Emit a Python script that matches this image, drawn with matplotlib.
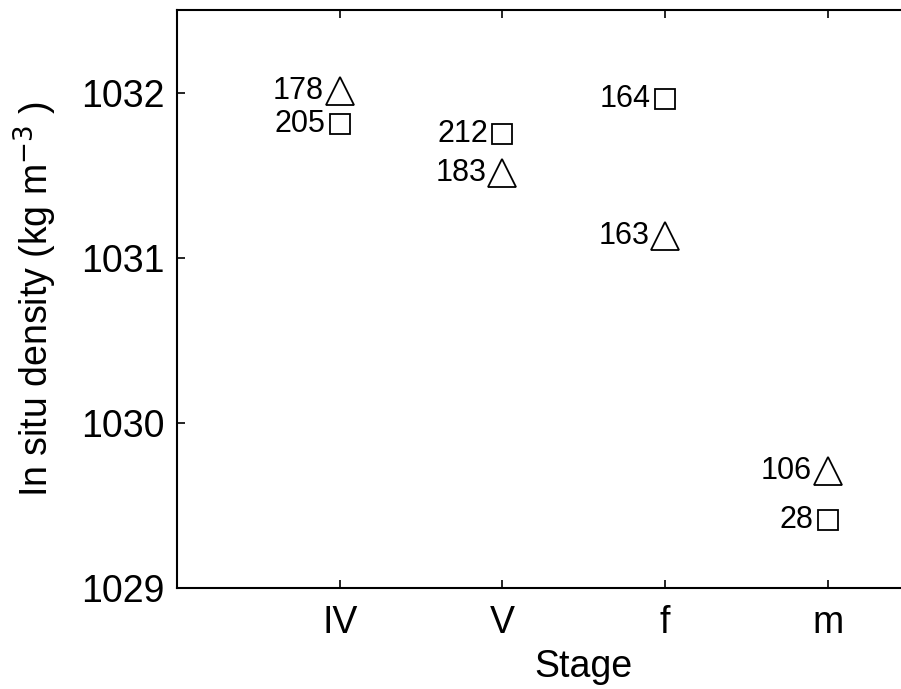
import matplotlib.pyplot as plt

plt.rcParams['font.family'] = ['Liberation Sans', 'DejaVu Sans']

# stages and densities (kg m^-3), with sample counts
stages = ['IV', 'V', 'f', 'm']
tri_density = [1032.01, 1031.51, 1031.13, 1029.71]
tri_n = [178, 183, 163, 106]
sq_density = [1031.81, 1031.75, 1031.96, 1029.41]
sq_n = [205, 212, 164, 28]

fig = plt.figure(figsize=(9.01, 6.89), dpi=100)
# axes runs past the right edge like the original export
ax = fig.add_axes([177/901, 1-588/689, 5*162.7/901, (588-10)/689])

xs = list(range(1, len(stages)+1))
ax.plot(xs, tri_density, linestyle='none', marker='^', ms=20, mfc='none', mec='black', mew=1.3)
ax.plot(xs, sq_density, linestyle='none', marker='s', ms=14, mfc='none', mec='black', mew=1.3)

for x, y, n in zip(xs, tri_density, tri_n):
    ax.annotate(str(n), (x, y), xytext=(-11.5, 0), textcoords='offset points',
                ha='right', va='center', fontsize=22)
for x, y, n in zip(xs, sq_density, sq_n):
    ax.annotate(str(n), (x, y), xytext=(-10.5, 0), textcoords='offset points',
                ha='right', va='center', fontsize=22)

ax.set_xlim(0, 5)
ax.set_ylim(1029, 1032.5)
ax.set_xticks(xs)
ax.set_xticklabels(stages)
ax.set_yticks([1029, 1030, 1031, 1032])
ax.tick_params(direction='in', length=6, width=1.2, labelsize=27, top=True, right=True)
ax.tick_params(axis='y', pad=9)
ax.tick_params(axis='x', pad=12)
for s in ax.spines.values():
    s.set_linewidth(1.5)

ax.set_xlabel('Stage', fontsize=27, labelpad=6)
ax.set_ylabel('In situ density (kg m$^{-3}$ )', fontsize=27, labelpad=16)

fig.savefig('out.png', dpi=100)
